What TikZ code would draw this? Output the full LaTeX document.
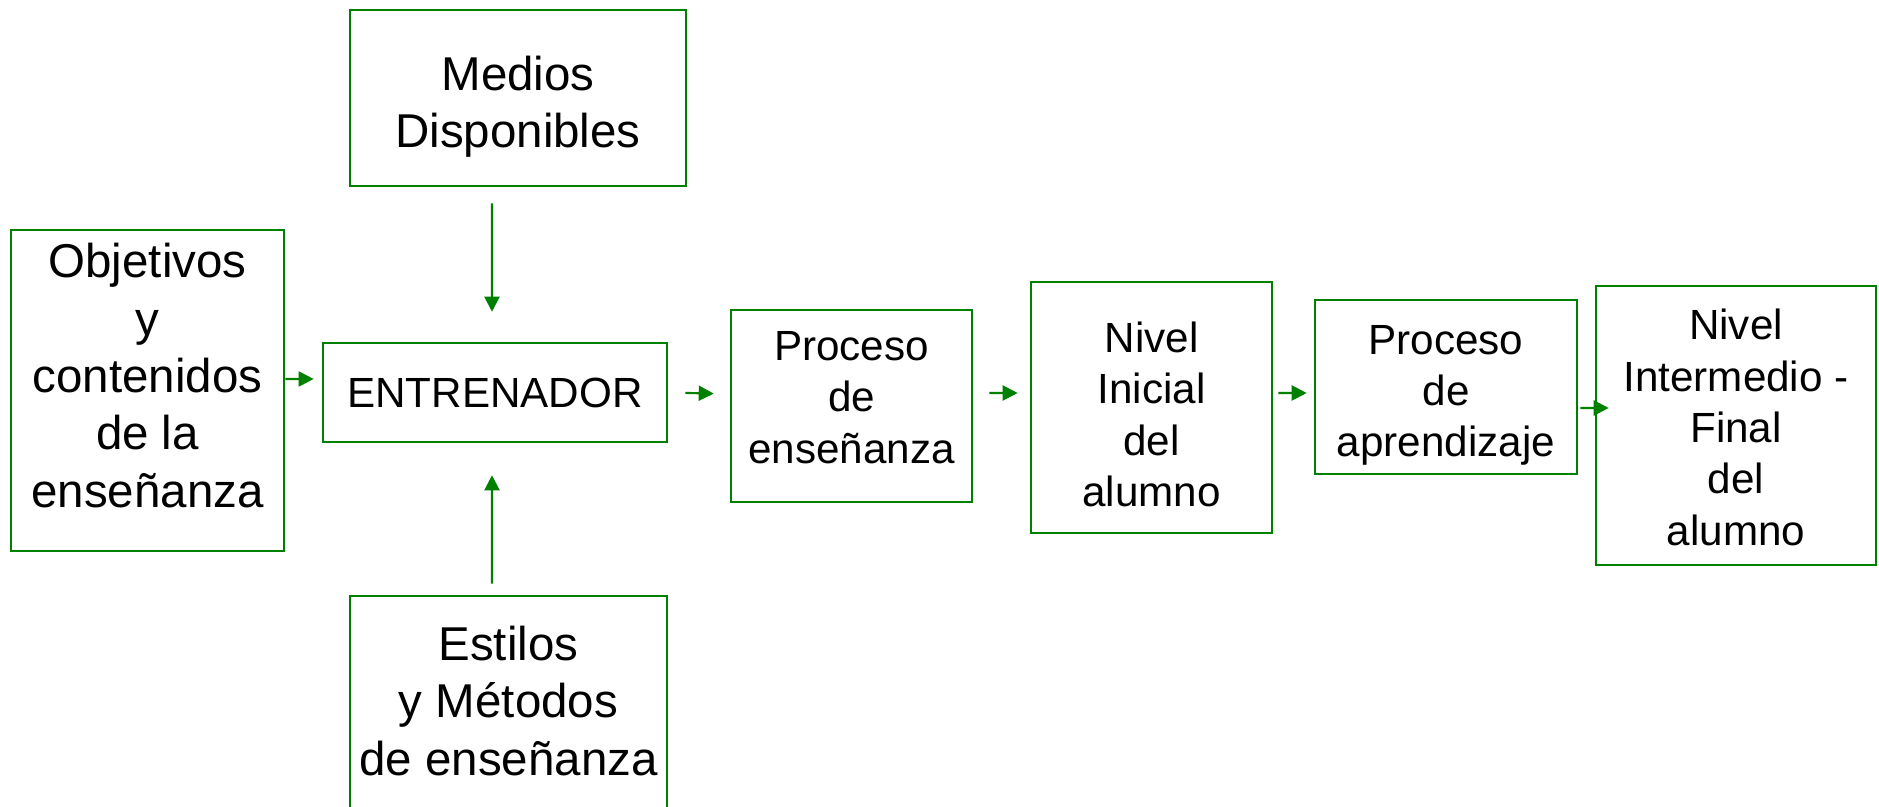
\documentclass[tikz,border=0pt]{standalone}
\usepackage{fontspec}
\setmainfont{Liberation Sans}
\usetikzlibrary{arrows.meta}
\definecolor{verde}{RGB}{0,128,0}
\tikzset{
    caja/.style={draw=verde, line width=0.7pt, inner sep=0pt},
    grande/.style={align=center, font=\fontsize{13.5}{16.3}\selectfont},
    chica/.style={align=center, font=\fontsize{12}{14.6}\selectfont},
    flecha/.style={draw=verde, line width=0.6pt, -{Triangle[length=0.15cm,width=0.15cm]}}
}

\begin{document}
\begin{tikzpicture}[x=0.01cm,y=-0.01cm]
    \clip (0,0) rectangle (1879,806);
    \fill[white] (0,0) rectangle (1879,806);
    % cajas
    \node[caja,minimum width=3.36cm,minimum height=1.76cm,
        label={[grande,yshift=-0.084cm]center:Medios\\Disponibles}] (medios) at (518,98) {};
    \node[caja,minimum width=2.73cm,minimum height=3.21cm,
        label={[grande,yshift=0.15cm]center:Objetivos\\y\\contenidos\\de la\\enseñanza}] (objetivos) at (147.5,390.5) {};
    \node[caja,minimum width=3.44cm,minimum height=0.99cm,
        label={[chica]center:ENTRENADOR}] (entrenador) at (495,392.5) {};
    \node[caja,minimum width=3.17cm,minimum height=2.2cm,
        label={[grande,yshift=0.05cm]center:Estilos\\y Métodos\\de enseñanza}] (estilos) at (508.5,706) {};
    \node[caja,minimum width=2.41cm,minimum height=1.92cm,
        label={[chica,yshift=0.084cm]center:Proceso\\de\\enseñanza}] (ensenanza) at (851.5,406) {};
    \node[caja,minimum width=2.41cm,minimum height=2.51cm,
        label={[chica,yshift=-0.07cm]center:Nivel\\Inicial\\del\\alumno}] (inicial) at (1151.5,407.5) {};
    \node[caja,minimum width=2.62cm,minimum height=1.74cm,
        label={[chica,yshift=-0.084cm]center:Proceso\\de\\aprendizaje}] (aprendizaje) at (1446,387) {};
    \node[caja,minimum width=2.80cm,minimum height=2.79cm,
        label={[chica,yshift=-0.02cm]center:Nivel\\Intermedio -\\Final\\del\\alumno}] (final) at (1736,425.5) {};
    % flechas
    \draw[flecha,shorten <=0.16cm,shorten >=0.30cm] ([xshift=-0.26cm]medios.south) -- ([xshift=-0.03cm]entrenador.north);
    \draw[flecha,shorten <=0.11cm,shorten >=0.32cm] ([xshift=-0.165cm]estilos.north) -- ([xshift=-0.03cm]entrenador.south);
    \draw[flecha,shorten >=0.08cm] ([yshift=0.115cm]objetivos.east) -- ([yshift=0.135cm]entrenador.west);
    \draw[flecha,shorten <=0.17cm,shorten >=0.16cm] (entrenador.east) -- ([yshift=0.12cm]ensenanza.west);
    \draw[flecha,shorten <=0.16cm,shorten >=0.12cm] ([yshift=0.13cm]ensenanza.east) -- ([yshift=0.145cm]inicial.west);
    \draw[flecha,shorten <=0.05cm,shorten >=0.07cm] ([yshift=0.145cm]inicial.east) -- ([yshift=-0.06cm]aprendizaje.west);
    \draw[flecha,shorten <=0.02cm,shorten >=-0.14cm] ([yshift=-0.21cm]aprendizaje.east) -- ([yshift=0.175cm]final.west);
\end{tikzpicture}
\end{document}
